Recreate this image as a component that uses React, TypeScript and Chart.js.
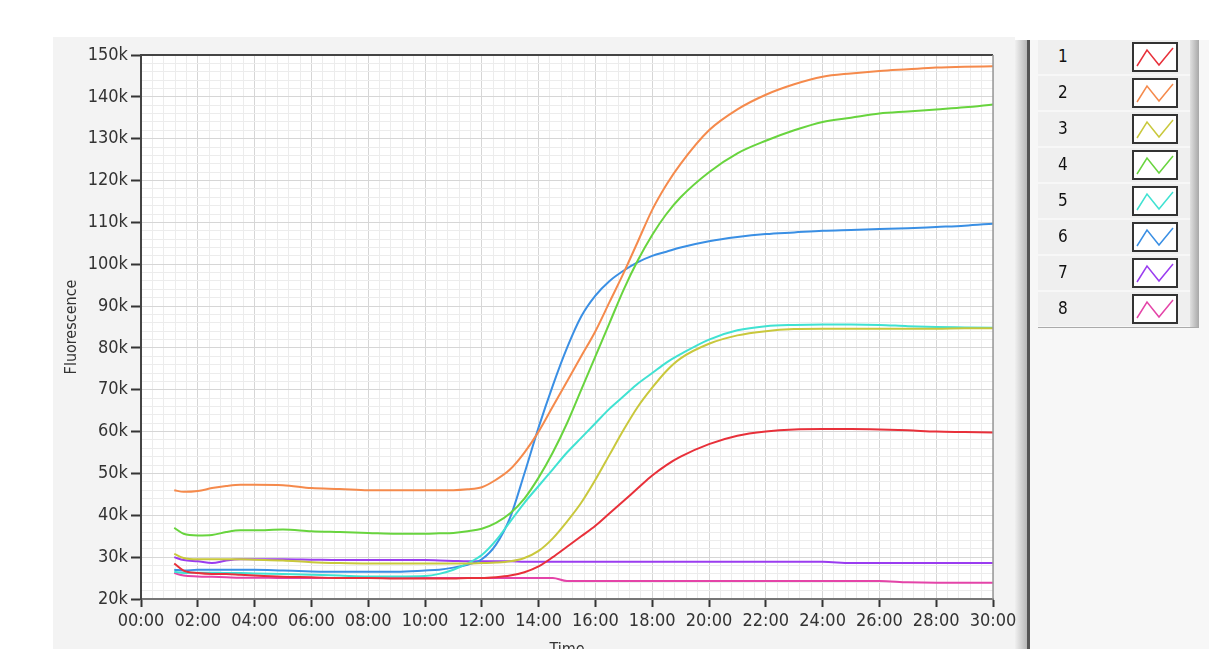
import React, { useEffect, useRef } from "react";
import { Chart, registerables } from "chart.js";
Chart.register(...registerables);

// time in minutes
const times = [1.17, 1.5, 2, 2.5, 3, 3.5, 4, 5, 6, 7, 8, 9, 10, 10.5, 11, 11.5, 12, 12.5, 13, 13.5, 14, 14.5, 15, 15.5, 16, 16.5, 17, 17.5, 18, 18.5, 19, 20, 21, 22, 23, 24, 25, 26, 27, 28, 29, 30];

// fluorescence in thousands
const series1 = [28.5, 26.8, 26.2, 26, 26, 25.8, 25.6, 25.3, 25.2, 25, 25, 24.9, 24.9, 24.9, 24.9, 25, 25, 25.2, 25.6, 26.4, 27.8, 30, 32.5, 35, 37.5, 40.5, 43.5, 46.5, 49.5, 52, 54, 57, 59, 60, 60.5, 60.6, 60.6, 60.5, 60.3, 60, 59.9, 59.8];
const series2 = [46, 45.6, 45.8, 46.5, 47, 47.3, 47.3, 47.2, 46.5, 46.3, 46, 46, 46, 46, 46, 46.2, 46.7, 48.5, 51, 55, 60, 66, 72, 78, 84, 91, 98, 105.5, 113, 119, 124, 132, 137, 140.5, 143, 144.8, 145.6, 146.2, 146.6, 147, 147.2, 147.3];
const series3 = [30.8, 29.8, 29.5, 29.5, 29.5, 29.5, 29.4, 29.2, 28.8, 28.6, 28.5, 28.5, 28.5, 28.5, 28.5, 28.5, 28.6, 28.7, 29, 29.8, 31.5, 34.5, 38.5, 43, 48.5, 54.5, 60.5, 66, 70.5, 74.5, 77.5, 81, 83, 84, 84.5, 84.6, 84.6, 84.6, 84.6, 84.6, 84.7, 84.7];
const series4 = [37, 35.6, 35.2, 35.3, 36, 36.4, 36.4, 36.6, 36.2, 36, 35.8, 35.6, 35.6, 35.7, 35.8, 36.2, 36.8, 38.2, 40.5, 44, 49, 55, 62, 70, 78, 86, 94, 101, 107, 112, 116, 122, 126.5, 129.5, 132, 134, 135, 136, 136.5, 137, 137.5, 138.2];
const series5 = [26.5, 26.2, 26.3, 26.3, 26.2, 26.2, 26.1, 26, 25.8, 25.6, 25.4, 25.4, 25.5, 26, 27, 28.5, 30.5, 34, 38.5, 43, 47, 51, 55, 58.5, 62, 65.5, 68.5, 71.5, 74, 76.5, 78.5, 82, 84.2, 85.2, 85.5, 85.6, 85.6, 85.5, 85.2, 85, 84.9, 84.8];
const series6 = [27, 26.8, 27, 27, 27, 27, 27, 26.8, 26.6, 26.5, 26.5, 26.5, 26.8, 27, 27.5, 28.2, 29.5, 33, 39.5, 50, 61, 71, 80, 87.5, 92.5, 96, 98.5, 100.5, 102, 103, 104, 105.5, 106.5, 107.2, 107.6, 108, 108.2, 108.4, 108.6, 108.9, 109.2, 109.7];
const series7 = [30, 29.3, 29, 28.6, 29.2, 29.5, 29.5, 29.5, 29.4, 29.3, 29.3, 29.3, 29.3, 29.2, 29.1, 29, 29, 29, 29, 28.9, 28.9, 28.9, 28.9, 28.9, 28.9, 28.9, 28.9, 28.9, 28.9, 28.9, 28.9, 28.9, 28.9, 28.9, 28.9, 28.9, 28.6, 28.6, 28.6, 28.6, 28.6, 28.6];
const series8 = [26.2, 25.6, 25.4, 25.3, 25.2, 25.1, 25.1, 25, 25, 25, 25, 25, 25, 25, 25, 25, 25, 25, 25, 25, 25, 25, 24.3, 24.3, 24.3, 24.3, 24.3, 24.3, 24.3, 24.3, 24.3, 24.3, 24.3, 24.3, 24.3, 24.3, 24.3, 24.3, 24, 23.9, 23.9, 23.9];

const seriesNames = ["1", "2", "3", "4", "5", "6", "7", "8"];
const seriesColors = ["#e8303a", "#f58a4c", "#c9c83c", "#68d43e", "#40e2d2", "#3a8fe4", "#9a3cf0", "#e444a8"];
const seriesData = [series1, series2, series3, series4, series5, series6, series7, series8];

const xTickLabels = ["00:00", "02:00", "04:00", "06:00", "08:00", "10:00", "12:00", "14:00", "16:00", "18:00", "20:00", "22:00", "24:00", "26:00", "28:00", "30:00"];
const yTickLabels = ["20k", "30k", "40k", "50k", "60k", "70k", "80k", "90k", "100k", "110k", "120k", "130k", "140k", "150k"];

const FONT = "'DejaVu Sans Condensed', 'DejaVu Sans', sans-serif";

const isMajor = (v: number, step: number) => Math.abs(v / step - Math.round(v / step)) < 1e-6;

const framePlugin = {
  id: "frame",
  beforeDraw(chart: any) {
    const { ctx, chartArea: a } = chart;
    ctx.save();
    ctx.fillStyle = "#ffffff";
    ctx.fillRect(a.left, a.top, a.right - a.left, a.bottom - a.top);
    ctx.restore();
  },
  afterDraw(chart: any) {
    const { ctx, chartArea: a } = chart;
    ctx.save();
    ctx.strokeStyle = "#444";
    ctx.lineWidth = 2;
    ctx.beginPath();
    ctx.moveTo(a.left, a.top);
    ctx.lineTo(a.right, a.top);
    ctx.stroke();
    ctx.strokeStyle = "#999";
    ctx.lineWidth = 1.5;
    ctx.beginPath();
    ctx.moveTo(a.right, a.top);
    ctx.lineTo(a.right, a.bottom);
    ctx.stroke();
    ctx.restore();
  },
};

function Legend() {
  return (
    <div style={{ position: "absolute", left: 1038, top: 40, width: 161, height: 288 }}>
      {seriesNames.map((name, i) => (
        <div
          key={name}
          style={{
            position: "absolute",
            left: 0,
            top: i * 36,
            width: 152,
            height: 34,
            background: "#efefef",
          }}
        >
          <span
            style={{
              position: "absolute",
              left: 20,
              top: 6,
              fontFamily: FONT,
              fontSize: 17,
              color: "#111",
            }}
          >
            {name}
          </span>
          <svg
            width={46}
            height={30}
            style={{ position: "absolute", left: 94, top: 2 }}
          >
            <rect x={1} y={1} width={44} height={28} fill="#fff" stroke="#333" strokeWidth={2} />
            <polyline
              points="5,24 15,8 27,23 41,6"
              fill="none"
              stroke={seriesColors[i]}
              strokeWidth={1.5}
            />
          </svg>
        </div>
      ))}
      <div
        style={{
          position: "absolute",
          left: 152,
          top: 0,
          width: 9,
          height: 288,
          background: "linear-gradient(to right, #e0e0e0, #a8a8a8)",
        }}
      />
      <div style={{ position: "absolute", left: 0, top: 287, width: 161, height: 1, background: "#aaa" }} />
    </div>
  );
}

export default function App() {
  const canvasRef = useRef<HTMLCanvasElement>(null);

  useEffect(() => {
    if (!canvasRef.current) return;
    const xTicks: number[] = [];
    for (let i = 0; i <= 75; i++) xTicks.push(Math.round(i * 0.4 * 1000) / 1000);
    const yTicks: number[] = [];
    for (let i = 0; i <= 65; i++) yTicks.push(20 + i * 2);

    const chart = new Chart(canvasRef.current, {
      type: "line",
      data: {
        datasets: seriesData.map((d, i) => ({
          label: seriesNames[i],
          data: times.map((t, j) => ({ x: t, y: d[j] })),
          borderColor: seriesColors[i],
          backgroundColor: seriesColors[i],
          borderWidth: 2,
          pointRadius: 0,
          cubicInterpolationMode: "monotone" as const,
          fill: false,
        })),
      },
      options: {
        animation: false,
        responsive: false,
        maintainAspectRatio: false,
        layout: { padding: { left: 55, top: 55, right: 216, bottom: 0 } },
        plugins: { legend: { display: false }, tooltip: { enabled: false } },
        scales: {
          x: {
            type: "linear",
            min: 0,
            max: 30,
            afterBuildTicks: (scale: any) => {
              scale.ticks = xTicks.map((v) => ({ value: v }));
            },
            afterFit: (scale: any) => {
              scale.height = 71;
            },
            ticks: {
              autoSkip: false,
              maxRotation: 0,
              padding: 4,
              color: "#333",
              font: { family: FONT, size: 18 },
              callback: (v: any) => (isMajor(Number(v), 2) ? xTickLabels[Math.round(Number(v) / 2)] : ""),
            },
            grid: {
              color: (ctx: any) => (isMajor(ctx.tick.value, 2) ? "#d6d6d6" : "#ececec"),
              lineWidth: 1,
              tickLength: 8,
              tickColor: (ctx: any) => (isMajor(ctx.tick.value, 2) ? "#333" : "rgba(0,0,0,0)"),
              tickWidth: 2,
            },
            border: { display: true, color: "#777", width: 2 },
            title: {
              display: true,
              text: "Time",
              color: "#333",
              font: { family: FONT, size: 16 },
              padding: { top: 0, bottom: 11 },
            },
          },
          y: {
            type: "linear",
            min: 20,
            max: 150,
            afterBuildTicks: (scale: any) => {
              scale.ticks = yTicks.map((v) => ({ value: v }));
            },
            afterFit: (scale: any) => {
              scale.width = 86;
            },
            ticks: {
              autoSkip: false,
              padding: 3,
              color: "#333",
              font: { family: FONT, size: 18 },
              callback: (v: any) => (isMajor(Number(v), 10) ? yTickLabels[Math.round((Number(v) - 20) / 10)] : ""),
            },
            grid: {
              color: (ctx: any) => (isMajor(ctx.tick.value, 10) ? "#d6d6d6" : "#ececec"),
              lineWidth: 1,
              tickLength: 10,
              tickColor: (ctx: any) => (isMajor(ctx.tick.value, 10) ? "#333" : "rgba(0,0,0,0)"),
              tickWidth: 2,
            },
            border: { display: true, color: "#444", width: 2 },
            title: {
              display: true,
              text: "Fluorescence",
              color: "#333",
              font: { family: FONT, size: 16 },
              padding: { top: 7, bottom: 0 },
            },
          },
        },
      },
      plugins: [framePlugin],
    });
    return () => chart.destroy();
  }, []);

  return (
    <div
      style={{
        position: "absolute",
        left: 0,
        top: 0,
        width: 1209,
        height: 649,
        overflow: "hidden",
        background: "#ffffff",
      }}
    >
      {/* main panel */}
      <div style={{ position: "absolute", left: 53, top: 37, width: 962, height: 630, background: "#f3f3f3" }} />
      {/* separator */}
      <div
        style={{
          position: "absolute",
          left: 1015,
          top: 40,
          width: 12,
          height: 620,
          background: "linear-gradient(to right, #f0f0f0, #b8b8b8)",
        }}
      />
      <div style={{ position: "absolute", left: 1027, top: 40, width: 3, height: 620, background: "#555" }} />
      {/* right area */}
      <div style={{ position: "absolute", left: 1030, top: 40, width: 179, height: 620, background: "#f7f7f7" }} />
      <canvas
        ref={canvasRef}
        width={1209}
        height={670}
        style={{ position: "absolute", left: 0, top: 0, width: 1209, height: 670 }}
      />
      <Legend />
    </div>
  );
}
